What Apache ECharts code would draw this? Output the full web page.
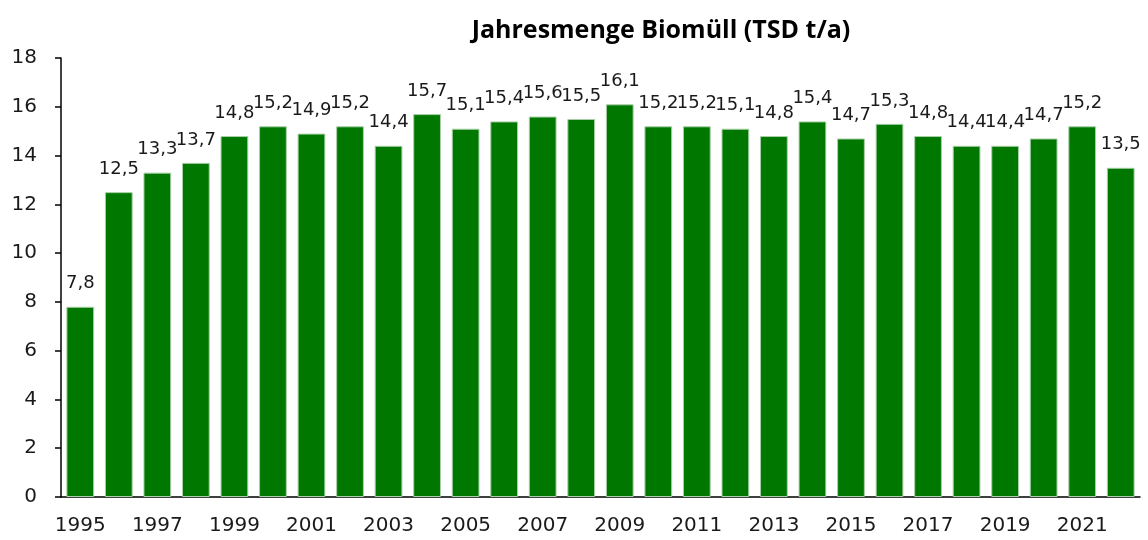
<!DOCTYPE html>
<html>
<head>
<meta charset="utf-8">
<script src="https://cdn.jsdelivr.net/npm/echarts@6/dist/echarts.min.js"></script>
<style>
  html, body { margin: 0; padding: 0; background: #fff; }
  #chart { width: 1148px; height: 540px; }
</style>
</head>
<body>
<div id="chart"></div>
<script>
  // Jahre
  var years = ['1995','1996','1997','1998','1999','2000','2001','2002','2003','2004',
               '2005','2006','2007','2008','2009','2010','2011','2012','2013','2014',
               '2015','2016','2017','2018','2019','2020','2021','2022'];
  // Jahresmenge Biomüll in TSD t/a
  var biomuell = [7.8, 12.5, 13.3, 13.7, 14.8, 15.2, 14.9, 15.2, 14.4, 15.7,
                  15.1, 15.4, 15.6, 15.5, 16.1, 15.2, 15.2, 15.1, 14.8, 15.4,
                  14.7, 15.3, 14.8, 14.4, 14.4, 14.7, 15.2, 13.5];
  var yTicks = [0, 2, 4, 6, 8, 10, 12, 14, 16, 18];

  var myChart = echarts.init(document.getElementById('chart'));
  myChart.setOption({
    animation: false,
    title: {
      text: 'Jahresmenge Biomüll (TSD t/a)',
      left: 656,
      textAlign: 'center',
      top: 13,
      textStyle: { fontFamily: 'Open Sans', fontWeight: 'bold', fontSize: 25, color: '#000' }
    },
    grid: { left: 61, right: 8, top: 58, bottom: 43 },
    xAxis: {
      type: 'category',
      data: years,
      axisLine: { lineStyle: { color: '#000', width: 1.5 } },
      axisTick: { interval: 0, length: 6, lineStyle: { color: '#000', width: 1.5 } },
      axisLabel: {
        interval: 1,
        margin: 19,
        fontFamily: 'DejaVu Sans, Verdana, sans-serif',
        fontSize: 20,
        color: '#1a1a1a'
      }
    },
    yAxis: {
      type: 'value',
      min: yTicks[0],
      max: yTicks[yTicks.length - 1],
      interval: 2,
      splitLine: { show: false },
      axisLine: { show: true, lineStyle: { color: '#000', width: 1.5 } },
      axisTick: { show: true, length: 6, lineStyle: { color: '#000', width: 1.5 } },
      axisLabel: {
        margin: 24,
        fontFamily: 'DejaVu Sans, Verdana, sans-serif',
        fontSize: 20,
        color: '#1a1a1a'
      }
    },
    series: [{
      name: 'Biomüll',
      type: 'bar',
      data: biomuell,
      barCategoryGap: '28%',
      itemStyle: { color: '#007800', borderColor: '#a8d0a8', borderWidth: 1 },
      label: {
        show: true,
        position: 'top',
        distance: 14,
        fontFamily: 'DejaVu Sans, Verdana, sans-serif',
        fontSize: 18,
        color: '#1a1a1a',
        formatter: function (p) { return p.value.toFixed(1).replace('.', ','); }
      }
    }]
  });
</script>
</body>
</html>
